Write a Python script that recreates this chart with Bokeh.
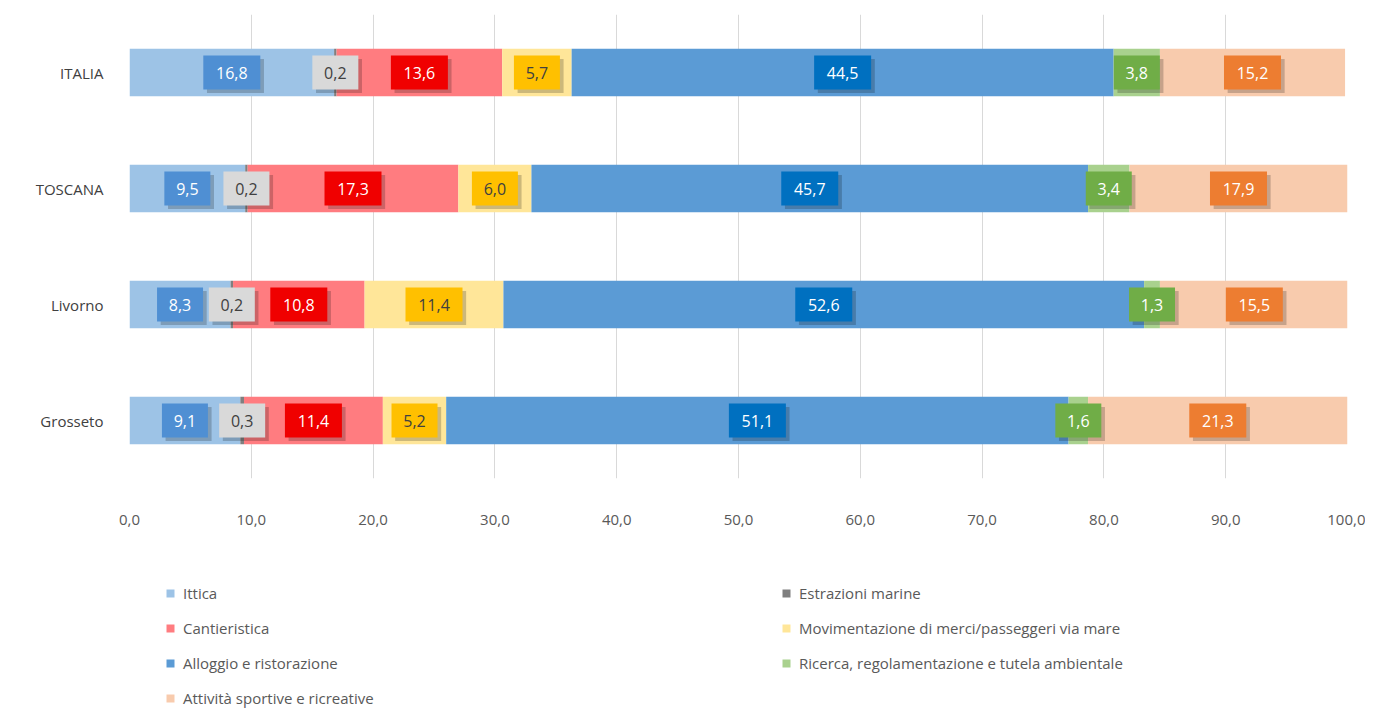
from bokeh.plotting import figure
from bokeh.layouts import column
from bokeh.models import ColumnDataSource, FactorRange, Range1d, Legend, LegendItem, FixedTicker
from bokeh.transform import dodge
from bokeh.core.properties import value
from bokeh.embed import file_html
from bokeh.resources import INLINE

FONT = "Open Sans"

categories = ["ITALIA", "TOSCANA", "Livorno", "Grosseto"]
series = ["Ittica", "Estrazioni marine", "Cantieristica",
          "Movimentazione di merci/passeggeri via mare", "Alloggio e ristorazione",
          "Ricerca, regolamentazione e tutela ambientale", "Attività sportive e ricreative"]
ittica = [16.8, 9.5, 8.3, 9.1]
estrazioni = [0.2, 0.2, 0.2, 0.3]
cantieristica = [13.6, 17.3, 10.8, 11.4]
movimentazione = [5.7, 6.0, 11.4, 5.2]
alloggio = [44.5, 45.7, 52.6, 51.1]
ricerca = [3.8, 3.4, 1.3, 1.6]
attivita = [15.2, 17.9, 15.5, 21.3]
x_ticks = [0, 10, 20, 30, 40, 50, 60, 70, 80, 90, 100]
x_tick_labels = ["0,0", "10,0", "20,0", "30,0", "40,0", "50,0", "60,0", "70,0", "80,0", "90,0", "100,0"]

seg_colors = ["#9DC3E6", "#7F7F7F", "#FF7C80", "#FFE699", "#5B9BD5", "#A9D18E", "#F8CBAD"]
box_colors = ["#4F8FD3", "#D9D9D9", "#F00000", "#FFC000", "#0070C0", "#70AD47", "#ED7D31"]
txt_colors = ["white", "#404040", "white", "#404040", "white", "white", "white"]

values = [ittica, estrazioni, cantieristica, movimentazione, alloggio, ricerca, attivita]
keys = ["s%d" % i for i in range(len(series))]

data = {"cat": categories}
for k, v in zip(keys, values):
    data[k] = v
src = ColumnDataSource(data)

p = figure(width=1365, height=545,
           y_range=FactorRange(factors=categories[::-1]),
           x_range=Range1d(0, 100),
           output_backend="svg", toolbar_location=None,
           min_border_left=129, min_border_right=18,
           min_border_top=14, min_border_bottom=67)
p.outline_line_color = None

p.hbar_stack(keys, y="cat", height=0.41, color=seg_colors, source=src, line_color=None)

# labels
lx, ly, lt, lb, lc, lw = [], [], [], [], [], []
for ci, cat in enumerate(categories):
    cum = 0.0
    for si, v in enumerate(values):
        val = v[ci]
        lx.append(cum + val / 2.0)
        ly.append(cat)
        t = ("%.1f" % val).replace(".", ",")
        lt.append(t)
        lb.append(box_colors[si])
        lc.append(txt_colors[si])
        lw.append(46 if len(t) <= 3 else 57)
        cum += val
lsrc = ColumnDataSource(dict(x=lx, y=ly, text=lt, box=lb, tc=lc, w=lw))

p.rect(x=dodge("x", 0.3, range=p.x_range), y=dodge("y", -0.03, range=p.y_range),
       width="w", height=34, width_units="screen", height_units="screen",
       fill_color="black", fill_alpha=0.2, line_color=None, source=lsrc)
p.rect(x="x", y="y", width="w", height=34, width_units="screen", height_units="screen",
       fill_color="box", line_color=None, source=lsrc)
p.text(x="x", y="y", text="text", text_color="tc", text_align="center", text_baseline="middle",
       text_font=value(FONT), text_font_size="16px", source=lsrc)

# axes
p.xaxis.ticker = FixedTicker(ticks=x_ticks)
p.xaxis.major_label_overrides = {t: l for t, l in zip(x_ticks, x_tick_labels)}
p.xaxis.axis_line_color = None
p.xaxis.major_tick_line_color = None
p.xaxis.minor_tick_line_color = None
p.xaxis.major_label_standoff = 30
p.xaxis.major_label_text_font = FONT
p.xaxis.major_label_text_font_size = "15px"
p.xaxis.major_label_text_color = "#595959"

p.yaxis.axis_line_color = None
p.yaxis.major_tick_line_color = None
p.yaxis.minor_tick_line_color = None
p.yaxis.major_label_standoff = 20
p.yaxis.major_label_text_font = FONT
p.yaxis.major_label_text_font_size = "15px"
p.yaxis.major_label_text_color = "#404040"

p.xgrid.ticker = FixedTicker(ticks=x_ticks)
p.xgrid.grid_line_color = "#D9D9D9"
p.ygrid.grid_line_color = None

# legend panel: same series with zero-height bars out of view, only their legend entries show
q = figure(width=1365, height=165,
           y_range=FactorRange(factors=categories[::-1]), x_range=Range1d(1000, 1100),
           output_backend="svg", toolbar_location=None,
           min_border=0, min_border_left=0, min_border_right=0,
           min_border_top=0, min_border_bottom=0)
q.axis.visible = False
q.grid.grid_line_color = None
q.outline_line_color = None
leg_r = q.hbar_stack(keys, y="cat", height=0, color=seg_colors, source=src,
                     line_color=None, line_alpha=0)

def mk_legend(idx, loc):
    items = [LegendItem(label=series[i], renderers=[leg_r[i]]) for i in idx]
    return Legend(items=items, location=loc, orientation="vertical",
                  glyph_width=10, glyph_height=10, label_height=20, spacing=15,
                  label_standoff=8, padding=0, margin=0,
                  border_line_color=None, background_fill_alpha=0,
                  label_text_font=FONT, label_text_font_size="15px",
                  label_text_color="#595959")

q.add_layout(mk_legend([0, 2, 4, 6], (36, 2)))
q.add_layout(mk_legend([1, 3, 5], (652, 37)))

layout = column(p, q, spacing=0)
open("out.html", "w").write(file_html(layout, INLINE))
